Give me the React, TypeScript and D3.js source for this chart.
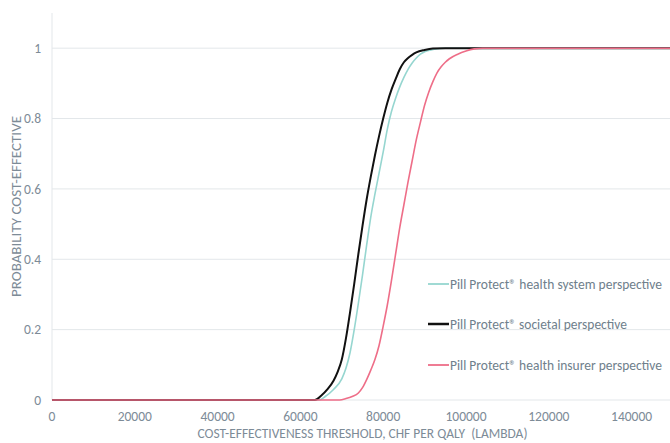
import * as d3 from "d3";

// cost-effectiveness acceptability curves
const lambdaTicks = [0, 20000, 40000, 60000, 80000, 100000, 120000, 140000];
const probTicks = [0, 0.2, 0.4, 0.6, 0.8, 1];

const systemLambda = [0, 64500, 66000, 68000, 70000, 71000, 72000, 73000, 74000, 75000, 76000, 77000, 78000, 79000, 80000, 81000, 82000, 83000, 84000, 85000, 86000, 87000, 88000, 89000, 90000, 92000, 95000, 150000];
const systemProb = [0, 0, 0.01, 0.03, 0.06, 0.09, 0.135, 0.2, 0.275, 0.355, 0.44, 0.52, 0.585, 0.645, 0.705, 0.77, 0.82, 0.858, 0.89, 0.917, 0.94, 0.958, 0.972, 0.983, 0.99, 0.996, 1, 1];

const societalLambda = [0, 63500, 65000, 66500, 68000, 69000, 70000, 71000, 72000, 73000, 74000, 75000, 76000, 77000, 78000, 79000, 80000, 81000, 82000, 83000, 84000, 85000, 86000, 87000, 88000, 90000, 92000, 95000, 150000];
const societalProb = [0, 0, 0.012, 0.03, 0.055, 0.08, 0.115, 0.175, 0.25, 0.33, 0.415, 0.495, 0.57, 0.635, 0.695, 0.75, 0.8, 0.845, 0.882, 0.912, 0.94, 0.96, 0.972, 0.981, 0.988, 0.995, 0.999, 1, 1];

const insurerLambda = [0, 69500, 71000, 72500, 74000, 75000, 76000, 77000, 78000, 79000, 80000, 81000, 82000, 83000, 84000, 85000, 86000, 87000, 88000, 89000, 90000, 91000, 92000, 93000, 94000, 95000, 96000, 98000, 100000, 102000, 104000, 150000];
const insurerProb = [0, 0, 0.004, 0.01, 0.02, 0.035, 0.058, 0.085, 0.115, 0.155, 0.21, 0.27, 0.34, 0.415, 0.49, 0.555, 0.62, 0.68, 0.74, 0.79, 0.838, 0.875, 0.905, 0.93, 0.947, 0.96, 0.97, 0.983, 0.992, 0.998, 1, 1];

const seriesNames = [
  "Pill Protect® health system perspective",
  "Pill Protect® societal perspective",
  "Pill Protect® health insurer perspective",
];
const seriesColors = ["#96d6d0", "#111111", "#ee6e88"];
const seriesWidths = [1.6, 2, 1.6];

const W = 670;
const H = 443;
const margin = { left: 52, right: -3, top: 13, bottom: 43 };
const textColor = "#7d8b97";
const font = "Calibri, Carlito, 'Open Sans', sans-serif";

export default function App() {
  const x = d3
    .scaleLinear()
    .domain([0, 150000])
    .range([margin.left, W - margin.right]);
  const y = d3
    .scaleLinear()
    .domain([0, 1.1])
    .range([H - margin.bottom, margin.top]);

  const line = d3
    .line<[number, number]>()
    .x((d) => x(d[0]))
    .y((d) => y(d[1]))
    .curve(d3.curveMonotoneX);

  const series = [
    d3.zip(systemLambda, systemProb) as [number, number][],
    d3.zip(societalLambda, societalProb) as [number, number][],
    d3.zip(insurerLambda, insurerProb) as [number, number][],
  ];

  const legendY = [284, 324, 365];
  const legendLen = [212, 177, 212];

  return (
    <div style={{ position: "absolute", left: 0, top: 0 }}>
      <svg width={W} height={H} style={{ display: "block", background: "#fff" }}>
        {/* grid */}
        {probTicks.map((t) => (
          <line
            key={t}
            x1={margin.left}
            x2={W}
            y1={y(t)}
            y2={y(t)}
            stroke="#e3e7ea"
            strokeWidth={1}
          />
        ))}
        <line
          x1={margin.left}
          x2={margin.left}
          y1={margin.top}
          y2={y(0)}
          stroke="#e3e7ea"
          strokeWidth={1}
        />

        {/* y ticks */}
        {probTicks.map((t) => (
          <text
            key={t}
            x={41}
            y={y(t)}
            dy="0.35em"
            textAnchor="end"
            fontFamily={font}
            fontSize={13.5}
            fill={textColor}
          >
            {t}
          </text>
        ))}

        {/* x ticks */}
        {lambdaTicks.map((t) => (
          <text
            key={t}
            x={x(t)}
            y={421}
            textAnchor="middle"
            fontFamily={font}
            fontSize={13.5}
            fill={textColor}
          >
            {t}
          </text>
        ))}

        <text
          x={(margin.left + W - margin.right) / 2}
          y={438}
          textAnchor="middle"
          fontFamily={font}
          fontSize={14}
          fill={textColor}
          textLength={330}
          lengthAdjust="spacingAndGlyphs"
          style={{ whiteSpace: "pre" }}
        >
          {"COST-EFFECTIVENESS THRESHOLD, CHF PER QALY  (LAMBDA)"}
        </text>
        <text
          transform={`translate(21,${(y(0) + margin.top) / 2}) rotate(-90)`}
          textAnchor="middle"
          fontFamily={font}
          fontSize={14}
          fill={textColor}
          textLength={181}
          lengthAdjust="spacingAndGlyphs"
        >
          PROBABILITY COST-EFFECTIVE
        </text>

        {/* curves */}
        {series.map((s, i) => (
          <path
            key={i}
            d={line(s) || ""}
            fill="none"
            stroke={seriesColors[i]}
            strokeWidth={seriesWidths[i]}
          />
        ))}

        {/* legend */}
        {seriesNames.map((n, i) => (
          <g key={n}>
            <line
              x1={428}
              x2={449}
              y1={legendY[i]}
              y2={legendY[i]}
              stroke={seriesColors[i]}
              strokeWidth={i === 1 ? 2.5 : 1.8}
            />
            <text
              x={450}
              y={legendY[i]}
              dy="0.35em"
              fontFamily={font}
              fontSize={14}
              fill="#6f808c"
              textLength={legendLen[i]}
              lengthAdjust="spacingAndGlyphs"
            >
              {n}
            </text>
          </g>
        ))}
      </svg>
    </div>
  );
}
